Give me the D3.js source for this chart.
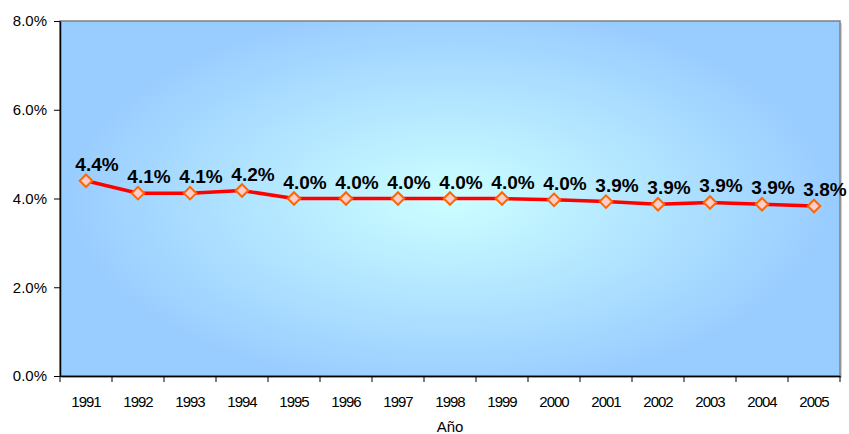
<!DOCTYPE html>
<html>
<head>
<meta charset="utf-8">
<script src="https://cdn.jsdelivr.net/npm/d3@7"></script>
<style>
  body { margin: 0; background: #fff; }
  svg { display: block; font-family: "Liberation Sans", Arial, sans-serif; }
</style>
</head>
<body>
<svg id="chart" width="849" height="434"></svg>
<script>
const years = ["1991","1992","1993","1994","1995","1996","1997","1998","1999","2000","2001","2002","2003","2004","2005"];
const values = [4.4, 4.12, 4.12, 4.18, 4.0, 4.0, 4.0, 4.0, 4.0, 3.97, 3.93, 3.87, 3.91, 3.87, 3.83];
const labels = ["4.4%","4.1%","4.1%","4.2%","4.0%","4.0%","4.0%","4.0%","4.0%","4.0%","3.9%","3.9%","3.9%","3.9%","3.8%"];
const yTicks = [0, 2, 4, 6, 8];

const svg = d3.select("#chart");
const m = {left: 60, top: 21, right: 840, bottom: 376};

const x = d3.scaleBand().domain(years).range([m.left, m.right]);
const y = d3.scaleLinear().domain([0, 8]).range([m.bottom, m.top]);

const defs = svg.append("defs");
const grad = defs.append("radialGradient").attr("id", "bg")
  .attr("cx", "0.5").attr("cy", "0.5").attr("r", "0.5")
  .attr("gradientTransform", "translate(0.5,0.5) scale(1,1.1) translate(-0.5,-0.5)");
grad.append("stop").attr("offset", "0").attr("stop-color", "#ccffff");
grad.append("stop").attr("offset", "1").attr("stop-color", "#99ccff");

// shadow
svg.append("rect").attr("x", m.left + 2).attr("y", m.top + 2)
  .attr("width", m.right - m.left).attr("height", m.bottom - m.top)
  .attr("fill", "#d0d0d0");
svg.append("rect").attr("x", m.left).attr("y", m.top)
  .attr("width", m.right - m.left).attr("height", m.bottom - m.top)
  .attr("fill", "url(#bg)").attr("stroke", "#808080").attr("stroke-width", 1.5);

// y axis
const yAxis = d3.axisLeft(y).tickValues(yTicks).tickFormat(d => d.toFixed(1) + "%").tickSize(6).tickSizeOuter(0);
const gy = svg.append("g").attr("transform", `translate(${m.left},0)`).call(yAxis);
gy.select(".domain").attr("stroke", "#000").attr("stroke-width", 1.5);
gy.selectAll(".tick line").attr("stroke", "#000");
gy.selectAll(".tick text").attr("font-size", 15).attr("fill", "#000").attr("x", -13)
  .attr("font-family", "Liberation Sans, Arial, sans-serif");

// x axis
const xAxis = d3.axisBottom(x).tickSize(0).tickSizeOuter(0);
const gx = svg.append("g").attr("transform", `translate(0,${m.bottom})`).call(xAxis);
gx.select(".domain").attr("stroke", "#000").attr("stroke-width", 1.5);
gx.selectAll(".tick text").attr("font-size", 15).attr("fill", "#000").attr("y", 20).attr("dy", "0.71em")
  .attr("letter-spacing", "-1px").attr("font-family", "Liberation Sans, Arial, sans-serif");
// tick marks between categories
const bounds = years.map(d => x(d)).concat([m.right]);
svg.append("g").selectAll("line").data(bounds).join("line")
  .attr("x1", d => d).attr("x2", d => d)
  .attr("y1", m.bottom).attr("y2", m.bottom + 6)
  .attr("stroke", "#000").attr("stroke-width", 1);

svg.append("text").attr("x", (m.left + m.right) / 2).attr("y", 432)
  .attr("text-anchor", "middle").attr("font-size", 15).text("Año");

// line
const cx = d => x(d) + x.bandwidth() / 2;
const data = years.map((d, i) => ({year: d, v: values[i], label: labels[i]}));
svg.append("path").datum(data)
  .attr("d", d3.line().x(d => cx(d.year)).y(d => y(d.v)))
  .attr("fill", "none").attr("stroke", "#ff0000").attr("stroke-width", 3.5);

// markers
const sym = d3.symbol().type(d3.symbolDiamond2).size(100);
svg.append("g").selectAll("path").data(data).join("path")
  .attr("d", sym)
  .attr("transform", d => `translate(${cx(d.year)},${y(d.v)})`)
  .attr("fill", "#ffcccc").attr("stroke", "#ff6600").attr("stroke-width", 2);

// labels
svg.append("g").selectAll("text").data(data).join("text")
  .attr("x", d => cx(d.year) + 11).attr("y", d => y(d.v) - 10)
  .attr("text-anchor", "middle").attr("font-size", 19).attr("font-weight", "bold")
  .attr("fill", "#000").text(d => d.label);
</script>
</body>
</html>
